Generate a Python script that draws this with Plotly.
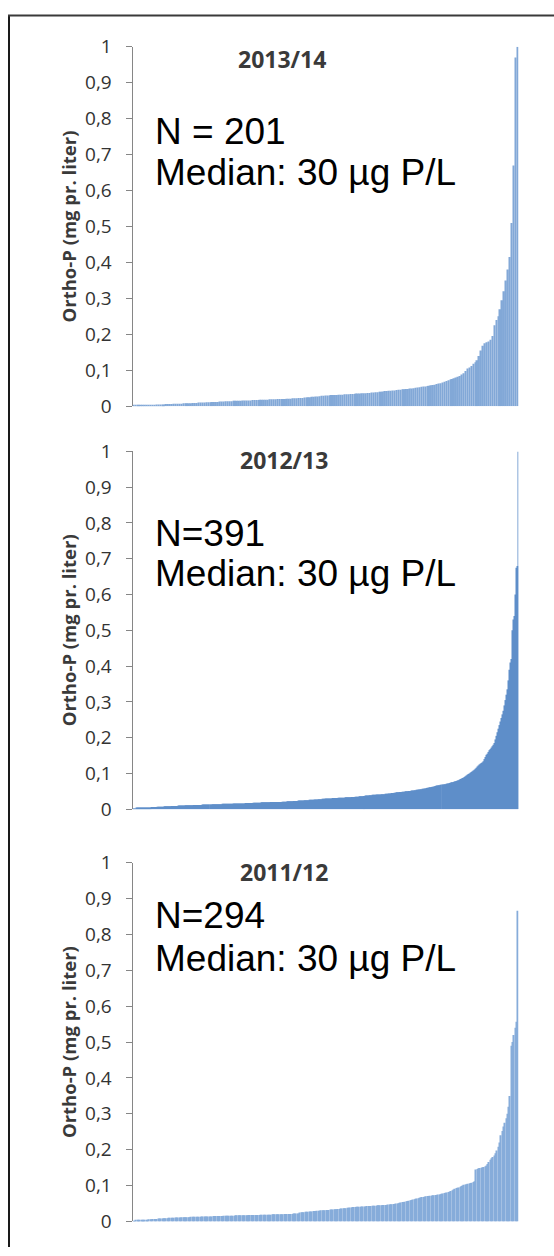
import plotly.graph_objects as go

W, H = 554, 1256

# Ortho-P per sampling station, sorted ascending (mg P per liter)
season_labels = ["2013/14", "2012/13", "2011/12"]
n_labels = ["N = 201", "N=391", "N=294"]
median_label = "Median: 30 µg P/L"

ortho_p_2013_14 = [
    0.002, 0.002, 0.002, 0.003, 0.003, 0.003, 0.003, 0.004, 0.004, 0.004,
    0.004, 0.004, 0.005, 0.005, 0.005, 0.005, 0.005, 0.006, 0.006, 0.006,
    0.006, 0.007, 0.007, 0.007, 0.007, 0.007, 0.008, 0.008, 0.008, 0.008,
    0.008, 0.009, 0.009, 0.009, 0.010, 0.010, 0.010, 0.010, 0.011, 0.011,
    0.011, 0.012, 0.012, 0.012, 0.012, 0.013, 0.013, 0.013, 0.014, 0.014,
    0.014, 0.014, 0.015, 0.015, 0.015, 0.015, 0.015, 0.016, 0.016, 0.016,
    0.016, 0.016, 0.017, 0.017, 0.017, 0.017, 0.018, 0.018, 0.018, 0.018,
    0.018, 0.019, 0.019, 0.019, 0.019, 0.020, 0.020, 0.020, 0.020, 0.020,
    0.021, 0.021, 0.021, 0.022, 0.022, 0.022, 0.023, 0.023, 0.023, 0.024,
    0.024, 0.025, 0.025, 0.026, 0.026, 0.027, 0.027, 0.028, 0.029, 0.029,
    0.030, 0.030, 0.030, 0.031, 0.031, 0.031, 0.031, 0.032, 0.032, 0.032,
    0.033, 0.033, 0.033, 0.034, 0.034, 0.034, 0.035, 0.035, 0.035, 0.036,
    0.036, 0.036, 0.037, 0.037, 0.038, 0.038, 0.039, 0.039, 0.040, 0.040,
    0.041, 0.042, 0.042, 0.043, 0.043, 0.044, 0.044, 0.045, 0.046, 0.046,
    0.047, 0.047, 0.048, 0.048, 0.049, 0.049, 0.050, 0.051, 0.052, 0.053,
    0.054, 0.055, 0.055, 0.056, 0.057, 0.058, 0.059, 0.060, 0.062, 0.063,
    0.064, 0.066, 0.068, 0.070, 0.072, 0.074, 0.076, 0.078, 0.080, 0.082,
    0.084, 0.088, 0.092, 0.098, 0.105, 0.108, 0.112, 0.118, 0.122, 0.128,
    0.140, 0.155, 0.168, 0.175, 0.178, 0.180, 0.185, 0.195, 0.225, 0.240,
    0.250, 0.270, 0.295, 0.320, 0.350, 0.380, 0.415, 0.510, 0.670, 0.970, 1.000,
]

ortho_p_2012_13 = [
    0.001, 0.002, 0.002, 0.002, 0.003, 0.003, 0.003, 0.003, 0.004, 0.004,
    0.004, 0.004, 0.004, 0.005, 0.005, 0.005, 0.005, 0.005, 0.005, 0.006,
    0.006, 0.006, 0.006, 0.006, 0.006, 0.007, 0.007, 0.007, 0.007, 0.007,
    0.007, 0.007, 0.008, 0.008, 0.008, 0.008, 0.008, 0.008, 0.008, 0.009,
    0.009, 0.009, 0.009, 0.009, 0.009, 0.009, 0.010, 0.010, 0.010, 0.010,
    0.010, 0.010, 0.010, 0.011, 0.011, 0.011, 0.011, 0.011, 0.011, 0.011,
    0.011, 0.012, 0.012, 0.012, 0.012, 0.012, 0.012, 0.012, 0.012, 0.012,
    0.013, 0.013, 0.013, 0.013, 0.013, 0.013, 0.013, 0.013, 0.013, 0.013,
    0.013, 0.014, 0.014, 0.014, 0.014, 0.014, 0.014, 0.014, 0.014, 0.014,
    0.014, 0.015, 0.015, 0.015, 0.015, 0.015, 0.015, 0.015, 0.015, 0.015,
    0.015, 0.015, 0.016, 0.016, 0.016, 0.016, 0.016, 0.016, 0.016, 0.016,
    0.016, 0.016, 0.016, 0.016, 0.017, 0.017, 0.017, 0.017, 0.017, 0.017,
    0.017, 0.017, 0.018, 0.018, 0.018, 0.018, 0.018, 0.018, 0.018, 0.018,
    0.019, 0.019, 0.019, 0.019, 0.019, 0.019, 0.019, 0.019, 0.019, 0.020,
    0.020, 0.020, 0.020, 0.020, 0.020, 0.020, 0.020, 0.020, 0.020, 0.020,
    0.020, 0.021, 0.021, 0.021, 0.021, 0.021, 0.021, 0.022, 0.022, 0.022,
    0.022, 0.022, 0.022, 0.023, 0.023, 0.023, 0.023, 0.023, 0.024, 0.024,
    0.024, 0.024, 0.024, 0.024, 0.025, 0.025, 0.025, 0.025, 0.025, 0.026,
    0.026, 0.026, 0.026, 0.026, 0.027, 0.027, 0.027, 0.027, 0.028, 0.028,
    0.028, 0.028, 0.029, 0.029, 0.029, 0.030, 0.030, 0.030, 0.030, 0.030,
    0.030, 0.030, 0.031, 0.031, 0.031, 0.031, 0.031, 0.031, 0.032, 0.032,
    0.032, 0.032, 0.032, 0.032, 0.032, 0.033, 0.033, 0.033, 0.033, 0.033,
    0.033, 0.034, 0.034, 0.034, 0.034, 0.035, 0.035, 0.035, 0.035, 0.036,
    0.036, 0.036, 0.036, 0.037, 0.037, 0.037, 0.038, 0.038, 0.038, 0.038,
    0.039, 0.039, 0.039, 0.040, 0.040, 0.040, 0.040, 0.041, 0.041, 0.041,
    0.041, 0.041, 0.042, 0.042, 0.042, 0.042, 0.043, 0.043, 0.043, 0.044,
    0.044, 0.044, 0.045, 0.045, 0.045, 0.046, 0.046, 0.047, 0.047, 0.047,
    0.048, 0.048, 0.048, 0.049, 0.049, 0.049, 0.050, 0.050, 0.050, 0.051,
    0.051, 0.051, 0.052, 0.052, 0.052, 0.053, 0.053, 0.054, 0.054, 0.055,
    0.055, 0.056, 0.056, 0.057, 0.057, 0.058, 0.058, 0.059, 0.060, 0.060,
    0.061, 0.061, 0.062, 0.063, 0.063, 0.064, 0.065, 0.066, 0.066, 0.067,
    0.067, 0.068, 0.068, 0.068, 0.069, 0.069, 0.070, 0.070, 0.071, 0.072,
    0.072, 0.073, 0.074, 0.075, 0.075, 0.076, 0.077, 0.078, 0.079, 0.080,
    0.081, 0.082, 0.084, 0.085, 0.087, 0.088, 0.090, 0.092, 0.094, 0.096,
    0.098, 0.100, 0.102, 0.104, 0.106, 0.108, 0.110, 0.113, 0.116, 0.119,
    0.122, 0.125, 0.127, 0.129, 0.131, 0.134, 0.140, 0.146, 0.152, 0.155,
    0.160, 0.165, 0.168, 0.172, 0.176, 0.180, 0.185, 0.195, 0.205, 0.215,
    0.225, 0.235, 0.245, 0.255, 0.265, 0.275, 0.290, 0.305, 0.320, 0.335,
    0.360, 0.390, 0.410, 0.420, 0.500, 0.530, 0.540, 0.600, 0.675, 0.680, 1.000,
]

ortho_p_2011_12 = [
    0.002, 0.002, 0.003, 0.003, 0.003, 0.004, 0.004, 0.004, 0.005, 0.005,
    0.005, 0.005, 0.006, 0.006, 0.006, 0.007, 0.007, 0.007, 0.007, 0.008,
    0.008, 0.008, 0.008, 0.009, 0.009, 0.009, 0.009, 0.010, 0.010, 0.010,
    0.010, 0.010, 0.011, 0.011, 0.011, 0.011, 0.011, 0.012, 0.012, 0.012,
    0.012, 0.012, 0.012, 0.012, 0.013, 0.013, 0.013, 0.013, 0.013, 0.013,
    0.013, 0.013, 0.014, 0.014, 0.014, 0.014, 0.014, 0.014, 0.014, 0.014,
    0.014, 0.015, 0.015, 0.015, 0.015, 0.015, 0.015, 0.015, 0.015, 0.016,
    0.016, 0.016, 0.016, 0.016, 0.016, 0.016, 0.016, 0.016, 0.017, 0.017,
    0.017, 0.017, 0.017, 0.017, 0.017, 0.017, 0.017, 0.017, 0.018, 0.018,
    0.018, 0.018, 0.018, 0.018, 0.018, 0.018, 0.018, 0.019, 0.019, 0.019,
    0.019, 0.019, 0.019, 0.019, 0.019, 0.019, 0.020, 0.020, 0.020, 0.020,
    0.020, 0.020, 0.020, 0.020, 0.020, 0.021, 0.021, 0.021, 0.021, 0.021,
    0.021, 0.021, 0.022, 0.022, 0.022, 0.022, 0.022, 0.025, 0.026, 0.026,
    0.026, 0.027, 0.027, 0.027, 0.028, 0.028, 0.028, 0.029, 0.029, 0.029,
    0.030, 0.030, 0.030, 0.031, 0.031, 0.031, 0.031, 0.032, 0.032, 0.032,
    0.033, 0.033, 0.033, 0.034, 0.034, 0.034, 0.035, 0.035, 0.036, 0.036,
    0.037, 0.037, 0.037, 0.038, 0.038, 0.039, 0.039, 0.040, 0.040, 0.040,
    0.041, 0.041, 0.041, 0.041, 0.042, 0.042, 0.042, 0.042, 0.043, 0.043,
    0.043, 0.043, 0.044, 0.044, 0.044, 0.044, 0.045, 0.045, 0.045, 0.045,
    0.046, 0.046, 0.046, 0.046, 0.047, 0.047, 0.048, 0.048, 0.049, 0.049,
    0.050, 0.050, 0.051, 0.052, 0.053, 0.054, 0.054, 0.055, 0.056, 0.057,
    0.058, 0.059, 0.060, 0.061, 0.062, 0.063, 0.064, 0.065, 0.066, 0.067,
    0.068, 0.068, 0.069, 0.070, 0.071, 0.071, 0.072, 0.072, 0.073, 0.073,
    0.074, 0.074, 0.075, 0.075, 0.076, 0.077, 0.078, 0.079, 0.080, 0.081,
    0.082, 0.083, 0.085, 0.087, 0.089, 0.091, 0.093, 0.094, 0.095, 0.097,
    0.099, 0.100, 0.102, 0.103, 0.104, 0.105, 0.106, 0.107, 0.108, 0.110,
    0.112, 0.145, 0.146, 0.148, 0.149, 0.150, 0.151, 0.152, 0.154, 0.156,
    0.160, 0.166, 0.172, 0.176, 0.180, 0.184, 0.190, 0.198, 0.208, 0.220,
    0.240, 0.252, 0.265, 0.275, 0.288, 0.300, 0.320, 0.350, 0.490, 0.500,
    0.520, 0.540, 0.557, 0.866,
]

series = [ortho_p_2013_14, ortho_p_2012_13, ortho_p_2011_12]
bar_colors = ["#82a8d7", "#5f8ec9", "#86acda"]
bar_widths = [0.8, 1.0, 0.8]

y_tick_vals = [0, 0.1, 0.2, 0.3, 0.4, 0.5, 0.6, 0.7, 0.8, 0.9, 1]
y_tick_text = ["0", "0,1", "0,2", "0,3", "0,4", "0,5", "0,6", "0,7", "0,8", "0,9", "1"]
y_title = "Ortho-P (mg pr. liter)"

# panel geometry in pixels: (top of y=1, bottom of y=0)
panel_px = [(34.5, 401.5), (447.7, 813.0), (867.7, 1234.0)]
x_left_px, x_right_px = 132.5, 518.5
title_px = [(282, 46.5), (284, 456.0), (284, 877.0)]
text_rows_px = [(121.5, 162.5), (531.0, 572.5), (921.5, 965.0)]
text_left_px = 154


def px_x(v):
    return v / W


def px_y(v):
    return 1 - v / H


fig = go.Figure()
annotations = []
for k, vals in enumerate(series):
    sfx = "" if k == 0 else str(k + 1)
    fig.add_trace(go.Bar(
        x=list(range(len(vals))), y=vals, width=bar_widths[k],
        marker=dict(color=bar_colors[k], line=dict(width=0)),
        xaxis="x" + sfx, yaxis="y" + sfx, showlegend=False,
    ))
    top, bot = panel_px[k]
    fig.layout["xaxis" + sfx] = dict(
        domain=[px_x(x_left_px), px_x(x_right_px)],
        range=[-0.5, len(vals) - 0.5],
        showticklabels=False, ticks="", showgrid=False, zeroline=False,
        showline=False, anchor="y" + sfx, fixedrange=True,
    )
    fig.layout["yaxis" + sfx] = dict(
        domain=[px_y(bot), px_y(top)],
        range=[0, 1], tickvals=y_tick_vals, ticktext=y_tick_text,
        ticks="outside", ticklen=6, tickcolor="#868686", tickwidth=1,
        showline=True, linecolor="#868686", linewidth=1,
        showgrid=False, zeroline=False, anchor="x" + sfx,
        ticklabelstandoff=10,
        tickfont=dict(family="Open Sans", size=19, color="#333333"),
        fixedrange=True,
    )
    tx, ty = title_px[k]
    annotations.append(dict(
        text="<b>" + season_labels[k] + "</b>", x=px_x(tx), y=px_y(ty),
        xref="paper", yref="paper", xanchor="center", yanchor="middle",
        showarrow=False, font=dict(family="Open Sans", size=23, color="#3a3a3a"),
    ))
    annotations.append(dict(
        text="<b>" + y_title + "</b>", x=px_x(68), y=px_y((top + bot) / 2),
        xref="paper", yref="paper", xanchor="center", yanchor="middle",
        textangle=-90, showarrow=False,
        font=dict(family="Open Sans", size=18.5, color="#3a3a3a"),
    ))
    r1, r2 = text_rows_px[k]
    for txt, ry in ((n_labels[k], r1), (median_label, r2)):
        annotations.append(dict(
            text=txt, x=px_x(text_left_px), y=px_y(ry),
            xref="paper", yref="paper", xanchor="left", yanchor="middle",
            showarrow=False, borderpad=0,
            font=dict(family="Liberation Sans", size=37, color="#000000"),
        ))

# outer frame (left and top edges)
frame = [
    dict(type="line", xref="paper", yref="paper",
         x0=px_x(9), x1=px_x(9), y0=px_y(2), y1=px_y(1260),
         line=dict(color="#1a1a1a", width=2)),
    dict(type="line", xref="paper", yref="paper",
         x0=px_x(8), x1=px_x(560), y0=px_y(2.5), y1=px_y(2.5),
         line=dict(color="#3a3a3a", width=2)),
]

fig.update_layout(
    width=W, height=H, autosize=False,
    margin=dict(l=0, r=0, t=0, b=0, pad=0),
    paper_bgcolor="white", plot_bgcolor="white",
    annotations=annotations, shapes=frame,
)

fig.write_html("out.html", config={"displayModeBar": False})
